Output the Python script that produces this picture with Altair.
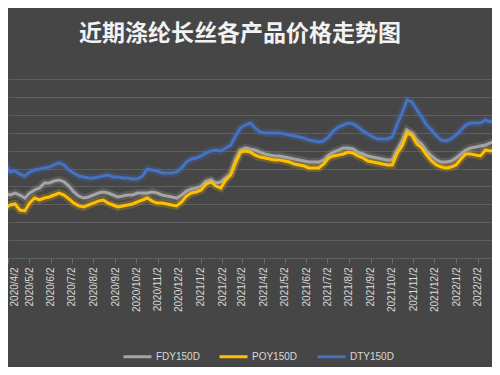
import altair as alt
import pandas as pd

dates = [
    "2020-03-22", "2020-03-29", "2020-04-05", "2020-04-12", "2020-04-19", "2020-04-26",
    "2020-05-03", "2020-05-10", "2020-05-17", "2020-05-24", "2020-05-31",
    "2020-06-07", "2020-06-14", "2020-06-21", "2020-06-28",
    "2020-07-05", "2020-07-12", "2020-07-19", "2020-07-26",
    "2020-08-02", "2020-08-09", "2020-08-16", "2020-08-23", "2020-08-30",
    "2020-09-06", "2020-09-13", "2020-09-20", "2020-09-27",
    "2020-10-04", "2020-10-11", "2020-10-18", "2020-10-25",
    "2020-11-01", "2020-11-08", "2020-11-15", "2020-11-22", "2020-11-29",
    "2020-12-06", "2020-12-13", "2020-12-20", "2020-12-27",
    "2021-01-03", "2021-01-10", "2021-01-17", "2021-01-24", "2021-01-31",
    "2021-02-07", "2021-02-14", "2021-02-21", "2021-02-28",
    "2021-03-07", "2021-03-14", "2021-03-21", "2021-03-28",
    "2021-04-04", "2021-04-11", "2021-04-18", "2021-04-25",
    "2021-05-02", "2021-05-09", "2021-05-16", "2021-05-23", "2021-05-30",
    "2021-06-06", "2021-06-13", "2021-06-20", "2021-06-27",
    "2021-07-04", "2021-07-11", "2021-07-18", "2021-07-25",
    "2021-08-01", "2021-08-08", "2021-08-15", "2021-08-22", "2021-08-29",
    "2021-09-05", "2021-09-12", "2021-09-19", "2021-09-26",
    "2021-10-03", "2021-10-10", "2021-10-17", "2021-10-24", "2021-10-31",
    "2021-11-07", "2021-11-14", "2021-11-21", "2021-11-28",
    "2021-12-05", "2021-12-12", "2021-12-19", "2021-12-26",
    "2022-01-02", "2022-01-09", "2022-01-16", "2022-01-23", "2022-01-30",
    "2022-02-06", "2022-02-13", "2022-02-20", "2022-02-27",
    "2022-03-06",
]

fdy = [
    6300, 5630, 5520, 5630, 5520, 5350, 5630, 5800, 5910, 6190,
    6190, 6300, 6360, 6250, 6020, 5690, 5460, 5350, 5410, 5520,
    5630, 5690, 5630, 5520, 5410, 5460, 5520, 5520, 5630, 5630,
    5630, 5690, 5630, 5520, 5460, 5410, 5350, 5520, 5740, 5860,
    5910, 6020, 6300, 6360, 6190, 6250, 6470, 6690, 7480, 8030,
    8150, 8090, 8030, 7920, 7810, 7750, 7700, 7700, 7640, 7590,
    7530, 7480, 7420, 7360, 7360, 7360, 7480, 7750, 7920, 8030,
    8150, 8150, 8090, 7920, 7810, 7700, 7640, 7590, 7530, 7480,
    7480, 8030, 8540, 9150, 8980, 8590, 8370, 7980, 7700, 7480,
    7360, 7360, 7420, 7590, 7810, 8030, 8150, 8200, 8260, 8310,
    8430, 8480, 8590,
]

poy = [
    5580, 4790, 4960, 5020, 4680, 4630, 5070, 5350, 5240, 5350,
    5410, 5520, 5630, 5520, 5300, 5070, 4910, 4850, 4960, 5070,
    5180, 5240, 5070, 4960, 4850, 4910, 4960, 5020, 5130, 5240,
    5350, 5180, 5070, 5070, 5020, 4960, 4910, 5130, 5460, 5630,
    5690, 5800, 6130, 6250, 6020, 5910, 6360, 6640, 7310, 7920,
    7980, 7920, 7750, 7640, 7590, 7530, 7480, 7480, 7420, 7360,
    7250, 7200, 7140, 7030, 7030, 7030, 7250, 7590, 7700, 7750,
    7810, 7920, 7870, 7700, 7590, 7420, 7360, 7310, 7250, 7200,
    7200, 7870, 8260, 8980, 8870, 8370, 8150, 7750, 7420, 7200,
    7080, 7030, 7080, 7200, 7530, 7810, 7810, 7750, 7700, 8030,
    7980, 8030, 8200,
]

dty = [
    7810, 7310, 6800, 6860, 6690, 6580, 6800, 6920, 6970, 7030,
    7080, 7200, 7310, 7200, 6920, 6750, 6580, 6530, 6470, 6470,
    6530, 6580, 6640, 6530, 6530, 6470, 6470, 6410, 6410, 6580,
    6970, 6920, 6860, 6750, 6750, 6750, 6800, 7030, 7360, 7530,
    7590, 7700, 7870, 7980, 8030, 7980, 8150, 8310, 8820, 9260,
    9430, 9540, 9260, 9040, 8980, 8980, 8980, 8980, 8930, 8870,
    8820, 8760, 8700, 8590, 8540, 8480, 8540, 8760, 9100, 9320,
    9430, 9540, 9490, 9320, 9100, 8930, 8760, 8650, 8650, 8650,
    8760, 9490, 10100, 10830, 10720, 10270, 9880, 9430, 9150, 8820,
    8590, 8540, 8650, 8870, 9150, 9430, 9540, 9540, 9540, 9710,
    9600, 9710, 9880,
]

series_names = ["FDY150D", "POY150D", "DTY150D"]
series_colors = ["#a5a5a5", "#ffc000", "#4472c4"]
y_ticks = [2000, 3000, 4000, 5000, 6000, 7000, 8000, 9000, 10000, 11000, 12000]
tick_months = [(2020, m) for m in range(4, 13)] + [(2021, m) for m in range(1, 13)] + [(2022, 1), (2022, 2)]

rows = []
for name, vals in zip(series_names, [fdy, poy, dty]):
    for d, v in zip(dates, vals):
        rows.append({"date": d, "series": name, "price": v})
df = pd.DataFrame(rows)

x_enc = alt.X(
    "date:T",
    scale=alt.Scale(domain=[alt.DateTime(year=2020, month=4, date=2),
                            alt.DateTime(year=2022, month=2, date=22, hours=10)]),
    axis=alt.Axis(
        values=[alt.DateTime(year=y, month=m, date=2) for y, m in tick_months],
        format="%Y/%-m/%-d", labelAngle=270, labelFont="Liberation Sans",
        labelFontSize=10, labelColor="#d9d9d9", labelPadding=4,
        labelOffset={"condition": {"test": "datum.value < datetime(2020, 3, 10)", "value": 6},
                     "value": 0},
        tickColor="#6e6e6e", tickSize=5, domain=False, grid=False,
        labelOverlap=False, labelFlush=False, labelBound=False, title=None,
    ),
)
y_enc = alt.Y(
    "price:Q",
    scale=alt.Scale(domain=[2000, 12000], nice=False),
    axis=alt.Axis(values=y_ticks, labels=False, ticks=False, domain=False,
                  grid=True, gridColor="#5e5e5e", gridWidth=1, title=None),
)
legend = alt.Legend(
    orient="none", legendX=114, legendY=262, direction="horizontal", title=None,
    symbolType="stroke", symbolSize=784, symbolStrokeWidth=3, symbolOpacity=1,
    labelFont="Liberation Sans", labelFontSize=10, labelColor="#d9d9d9",
    labelOffset=3, columnPadding=13, padding=0,
)
color_enc = alt.Color("series:N", scale=alt.Scale(domain=series_names, range=series_colors),
                      legend=legend, sort=series_names)

glow = alt.Chart().mark_line(strokeWidth=8, opacity=0.22, clip=True).encode(
    x=x_enc, y=y_enc, color=color_enc)
main = alt.Chart().mark_line(strokeWidth=3, clip=True).encode(
    x=x_enc, y=y_enc, color=color_enc)

chart = alt.layer(glow, main, data=df).properties(
    width=484, height=179,
    autosize=alt.AutoSizeParams(type="none"),
    padding={"top": 71, "left": 0, "right": 0, "bottom": 109},
    background="#464646",
    title=alt.TitleParams(
        text="近期涤纶长丝各产品价格走势图", font="Noto Sans CJK SC", fontSize=23,
        fontWeight="bold", color="#f2f2f2", anchor="middle", offset=33, dx=-10,
    ),
).configure_view(stroke=None)

chart.save("out.html", embed_options={"renderer": "svg", "actions": False})
